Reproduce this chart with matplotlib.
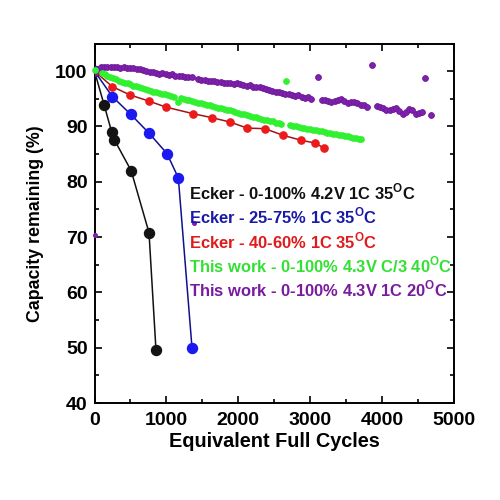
import matplotlib
matplotlib.use("Agg")
import matplotlib.pyplot as plt
from matplotlib.ticker import MultipleLocator

plt.rcParams['font.family'] = ['Liberation Sans', 'DejaVu Sans']
plt.rcParams['mathtext.fontset'] = 'custom'
plt.rcParams['mathtext.rm'] = 'Liberation Sans'
plt.rcParams['mathtext.bf'] = 'Liberation Sans:bold'

# ---- data ----
black_x = [0, 136, 239, 276, 510, 758, 855]
black_y = [100, 93.8, 89.0, 87.6, 82.0, 70.8, 49.6]

blue_x = [0, 248, 503, 758, 1008, 1166, 1356]
blue_y = [100, 95.4, 92.2, 88.8, 85.1, 80.7, 50.0]

red_x = [0, 248, 494, 754, 994, 1374, 1630, 1885, 2125, 2371, 2622, 2876, 3071, 3188]
red_y = [100, 97.2, 95.7, 94.6, 93.5, 92.3, 91.6, 90.8, 89.7, 89.6, 88.4, 87.5, 87.0, 86.1]

green_x = [0, 100, 140, 180, 220, 260, 300, 340, 380, 420, 460, 500, 540, 580, 620, 660,
           700, 740, 780, 820, 860, 900, 940, 980, 1020, 1060, 1100,
           1157, 1200, 1240, 1280, 1320, 1360, 1400, 1440, 1480, 1520, 1560, 1600, 1640,
           1680, 1720, 1760, 1800, 1840, 1880, 1920, 1960, 2000, 2040, 2080, 2120, 2160,
           2200, 2240, 2280, 2320, 2360, 2400, 2440, 2480, 2520, 2560, 2600,
           2664,
           2720, 2760, 2800, 2840, 2880, 2920, 2960, 3000, 3040, 3080, 3120, 3160, 3200,
           3240, 3280, 3320, 3360, 3400, 3440, 3480, 3520, 3560, 3600, 3640, 3680, 3710]
green_y = [100.2, 99.7, 99.4, 99.2, 99.0, 98.7, 98.5, 98.3, 98.1, 97.9, 97.8, 97.6, 97.4, 97.3,
           97.1, 96.9, 96.8, 96.6, 96.4, 96.3, 96.2, 96.0, 95.9, 95.8, 95.7, 95.5, 95.4,
           94.5, 95.1, 95.0, 94.8, 94.7, 94.6, 94.4, 94.3, 94.2, 94.1, 93.9, 93.8, 93.7,
           93.5, 93.4, 93.3, 93.2, 93.0, 92.9, 92.8, 92.6, 92.5, 92.3, 92.2, 92.1, 91.9,
           91.8, 91.7, 91.5, 91.4, 91.2, 91.1, 91.0, 90.9, 90.7, 90.6, 90.5,
           98.3,
           90.2, 90.1, 90.0, 89.9, 89.8, 89.7, 89.6, 89.5, 89.4, 89.3, 89.2, 89.1, 89.0,
           88.9, 88.8, 88.7, 88.6, 88.5, 88.4, 88.3, 88.2, 88.1, 88.0, 87.9, 87.8, 87.7]

purple_x = [0, 45, 90, 135, 180, 225, 270, 315, 360, 405, 450, 495, 540, 585, 630, 675,
            720, 765, 810, 855, 900, 945, 990, 1035, 1080, 1125, 1170, 1215, 1260, 1305, 1350,
            1440, 1485, 1530, 1575, 1620, 1665, 1710, 1755, 1800, 1845, 1890, 1935, 1980,
            2025, 2070, 2115, 2160, 2205, 2250, 2295, 2340, 2385, 2430, 2475, 2520, 2565,
            2610, 2655, 2700, 2745, 2790, 2835, 2880, 2925, 2970, 3015,
            3104,
            3160, 3205, 3250, 3295, 3340, 3385, 3430, 3475, 3520, 3565, 3610, 3655, 3700,
            3745, 3790,
            3855,
            3925, 3970, 4015, 4060, 4105, 4150, 4195, 4240, 4285, 4330, 4375, 4420, 4465,
            4510, 4555, 4597, 4676]
purple_y = [100.0, 100.4, 100.7, 100.8, 100.7, 100.8, 100.7, 100.8, 100.6, 100.7, 100.6,
            100.5, 100.5, 100.3, 100.4, 100.2, 100.1, 99.9, 99.8, 99.6, 99.5, 99.6, 99.4,
            99.3, 99.4, 99.2, 99.1, 99.2, 99.0, 98.9, 98.9,
            98.5, 98.4, 98.4, 98.3, 98.2, 98.2, 98.1, 98.0, 97.9, 97.9, 97.8, 97.7, 97.8,
            97.6, 97.5, 97.4, 97.5, 97.2, 97.1, 97.2, 96.9, 96.7, 96.6, 96.4, 96.2, 96.3,
            96.0, 95.8, 95.9, 95.6, 95.5, 95.6, 95.3, 95.2, 95.4, 95.0,
            99.0,
            94.7, 94.8, 94.6, 94.5, 94.6, 94.7, 94.9, 94.6, 94.3, 94.4, 94.5, 94.2, 93.9,
            93.8, 93.6,
            101.2,
            93.7, 93.6, 93.3, 92.9, 93.0, 93.2, 93.4, 92.8, 92.3, 92.6, 93.1, 92.9, 92.3,
            92.5, 92.6, 98.7, 92.0]

purple_small_x = [0, 1388]
purple_small_y = [70.3, 72.6]

labels = [
    ("Ecker - 0-100% 4.2V 1C 35$^{\\mathbf{O}}$C", "#111111"),
    ("Ecker - 25-75% 1C 35$^{\\mathbf{O}}$C", "#1a1aa8"),
    ("Ecker - 40-60% 1C 35$^{\\mathbf{O}}$C", "#e01b1b"),
    ("This work - 0-100% 4.3V C/3 40$^{\\mathbf{O}}$C", "#33e033"),
    ("This work - 0-100% 4.3V 1C 20$^{\\mathbf{O}}$C", "#7a1a9e"),
]

# ---- plot ----
fig = plt.figure(figsize=(5, 5), dpi=100)
ax = fig.add_axes([0.189, 0.194, 0.719, 0.719])

ax.plot(black_x, black_y, '-o', color='#111111', lw=1.1, ms=7.2, mfc='#141414', mec='#141414', zorder=3)
ax.plot(blue_x, blue_y, '-o', color='#10108f', lw=1.1, ms=7.2, mfc='#1a1af0', mec='#1a1af0', zorder=3)
ax.plot(red_x, red_y, '-o', color='#a01414', lw=1.1, ms=5.2, mfc='#ec1a1a', mec='#ec1a1a', zorder=4)
ax.plot(purple_x, purple_y, 'o', ms=4.2, mfc='#8020b0', mec='#6a1a92', mew=0.6, zorder=5)
ax.plot(purple_small_x, purple_small_y, 'o', ms=2.6, mfc='#8020b0', mec='#8020b0', zorder=5, clip_on=False)
ax.plot(green_x, green_y, 'o', ms=3.8, mfc='#30f030', mec='#30f030', zorder=6, clip_on=False)

ax.set_xlim(0, 5000)
ax.set_ylim(40, 105)
ax.xaxis.set_major_locator(MultipleLocator(1000))
ax.xaxis.set_minor_locator(MultipleLocator(500))
ax.yaxis.set_major_locator(MultipleLocator(10))
ax.yaxis.set_minor_locator(MultipleLocator(5))
ax.tick_params(which='both', direction='in', top=True, right=True, width=1.2,
               labelsize=14)
ax.tick_params(axis='x', which='both', pad=6.5)
ax.tick_params(axis='y', which='both', pad=5)
ax.tick_params(which='major', length=5)
ax.tick_params(which='minor', length=3)
for lab in ax.get_xticklabels() + ax.get_yticklabels():
    lab.set_fontweight('bold')
for s in ax.spines.values():
    s.set_linewidth(1.4)

ax.set_xlabel("Equivalent Full Cycles", fontsize=14.3, fontweight='bold', labelpad=2)
ax.set_ylabel("Capacity remaining (%)", fontsize=12.8, fontweight='bold', labelpad=8)

y0 = 0.586
for i, (txt, col) in enumerate(labels):
    ax.text(0.264, y0 - i * 0.0675, txt, transform=ax.transAxes, color=col,
            fontsize=11.9, fontweight='bold', va='center', ha='left', zorder=7)

fig.savefig("out.png", dpi=100)
